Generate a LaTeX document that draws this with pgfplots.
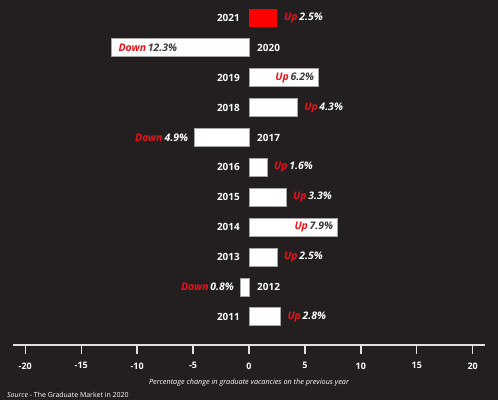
\documentclass[border=0pt]{standalone}
\usepackage{pgfplots}
\pgfplotsset{compat=1.18}
\usepackage{fontspec}
\setmainfont{Open Sans}
\definecolor{bg}{RGB}{35,31,32}
\definecolor{upred}{RGB}{236,18,28}
\definecolor{ink}{RGB}{58,58,64}
\definecolor{axisgray}{RGB}{225,225,225}
\newcommand\up{\textcolor{upred}{Up}\,}
\newcommand\down{\textcolor{upred}{Down}\,}

\begin{document}
\begin{tikzpicture}
\fill[bg] (0,0) rectangle (498bp,400bp);
\begin{axis}[
    at={(13bp,55bp)}, anchor=south west,
    scale only axis, width=472bp, height=345bp,
    xmin=-21.1, xmax=21.1,
    ymin=-0.94, ymax=10.6,
    axis x line=bottom, axis y line=none,
    x axis line style={-, draw=axisgray, line width=1.6pt},
    xtick={-20,-15,...,20},
    xticklabels={-20,-15,-10,-5,0,5,10,15,20},
    ytick=\empty,
    tick align=outside, major tick length=9bp,
    tick style={axisgray, line width=1.4pt},
    xticklabel style={font=\bfseries\fontsize{9}{10}\selectfont, text=white, yshift=-5bp},
    xlabel={Percentage change in graduate vacancies on the previous year},
    xlabel style={font=\itshape\fontsize{7.3}{8}\selectfont, text=white, yshift=-3.5bp},
    clip=false,
    bar width=18bp,
    nodes near coords style={inner sep=0pt},
]

% bars
\addplot[xbar, bar shift=0pt, fill=white, draw=gray!70, line width=0.8pt]
    coordinates {(2.8,0) (-0.8,1) (2.5,2) (7.9,3) (3.3,4) (1.6,5) (-4.9,6) (4.3,7) (6.2,8) (-12.3,9)};
\addplot[xbar, bar shift=0pt, fill=red, draw=none]
    coordinates {(2.5,10)};

% value labels, outside positive bars
\addplot[draw=none, mark=none, nodes near coords, point meta=explicit symbolic,
    nodes near coords style={anchor=west, xshift=7bp, text=white,
        font=\bfseries\itshape\fontsize{10.5}{12}\selectfont}]
    coordinates {(2.5,10)[{\up 2.5\%}] (4.3,7)[{\up 4.3\%}] (1.6,5)[{\up 1.6\%}]
                 (3.3,4)[{\up 3.3\%}] (2.5,2)[{\up 2.5\%}] (2.8,0)[{\up 2.8\%}]};
% inside positive bars
\addplot[draw=none, mark=none, nodes near coords, point meta=explicit symbolic,
    nodes near coords style={anchor=east, xshift=-4bp, text=ink,
        font=\bfseries\itshape\fontsize{10.5}{12}\selectfont}]
    coordinates {(6.2,8)[{\up 6.2\%}] (7.9,3)[{\up 7.9\%}]};
% inside negative bar
\addplot[draw=none, mark=none, nodes near coords, point meta=explicit symbolic,
    nodes near coords style={anchor=west, xshift=7bp, text=ink,
        font=\bfseries\itshape\fontsize{10.5}{12}\selectfont}]
    coordinates {(-12.3,9)[{\down 12.3\%}]};
% outside negative bars
\addplot[draw=none, mark=none, nodes near coords, point meta=explicit symbolic,
    nodes near coords style={anchor=east, xshift=-6bp, text=white,
        font=\bfseries\itshape\fontsize{10.5}{12}\selectfont}]
    coordinates {(-4.9,6)[{\down 4.9\%}] (-0.8,1)[{\down 0.8\%}]};

% year labels
\addplot[draw=none, mark=none, nodes near coords, point meta=explicit symbolic,
    nodes near coords style={anchor=east, xshift=-9bp, text=white,
        font=\bfseries\fontsize{10}{12}\selectfont}]
    coordinates {(0,10)[2021] (0,8)[2019] (0,7)[2018] (0,5)[2016] (0,4)[2015]
                 (0,3)[2014] (0,2)[2013] (0,0)[2011]};
\addplot[draw=none, mark=none, nodes near coords, point meta=explicit symbolic,
    nodes near coords style={anchor=west, xshift=8bp, text=white,
        font=\bfseries\fontsize{10}{12}\selectfont}]
    coordinates {(0,9)[2020] (0,6)[2017] (0,1)[2012]};
\end{axis}
\node[anchor=west, inner sep=0pt, text=white, font=\fontsize{7}{8}\selectfont]
    at (7bp,5bp) {\textit{Source} - The Graduate Market in 2020};
\end{tikzpicture}
\end{document}
